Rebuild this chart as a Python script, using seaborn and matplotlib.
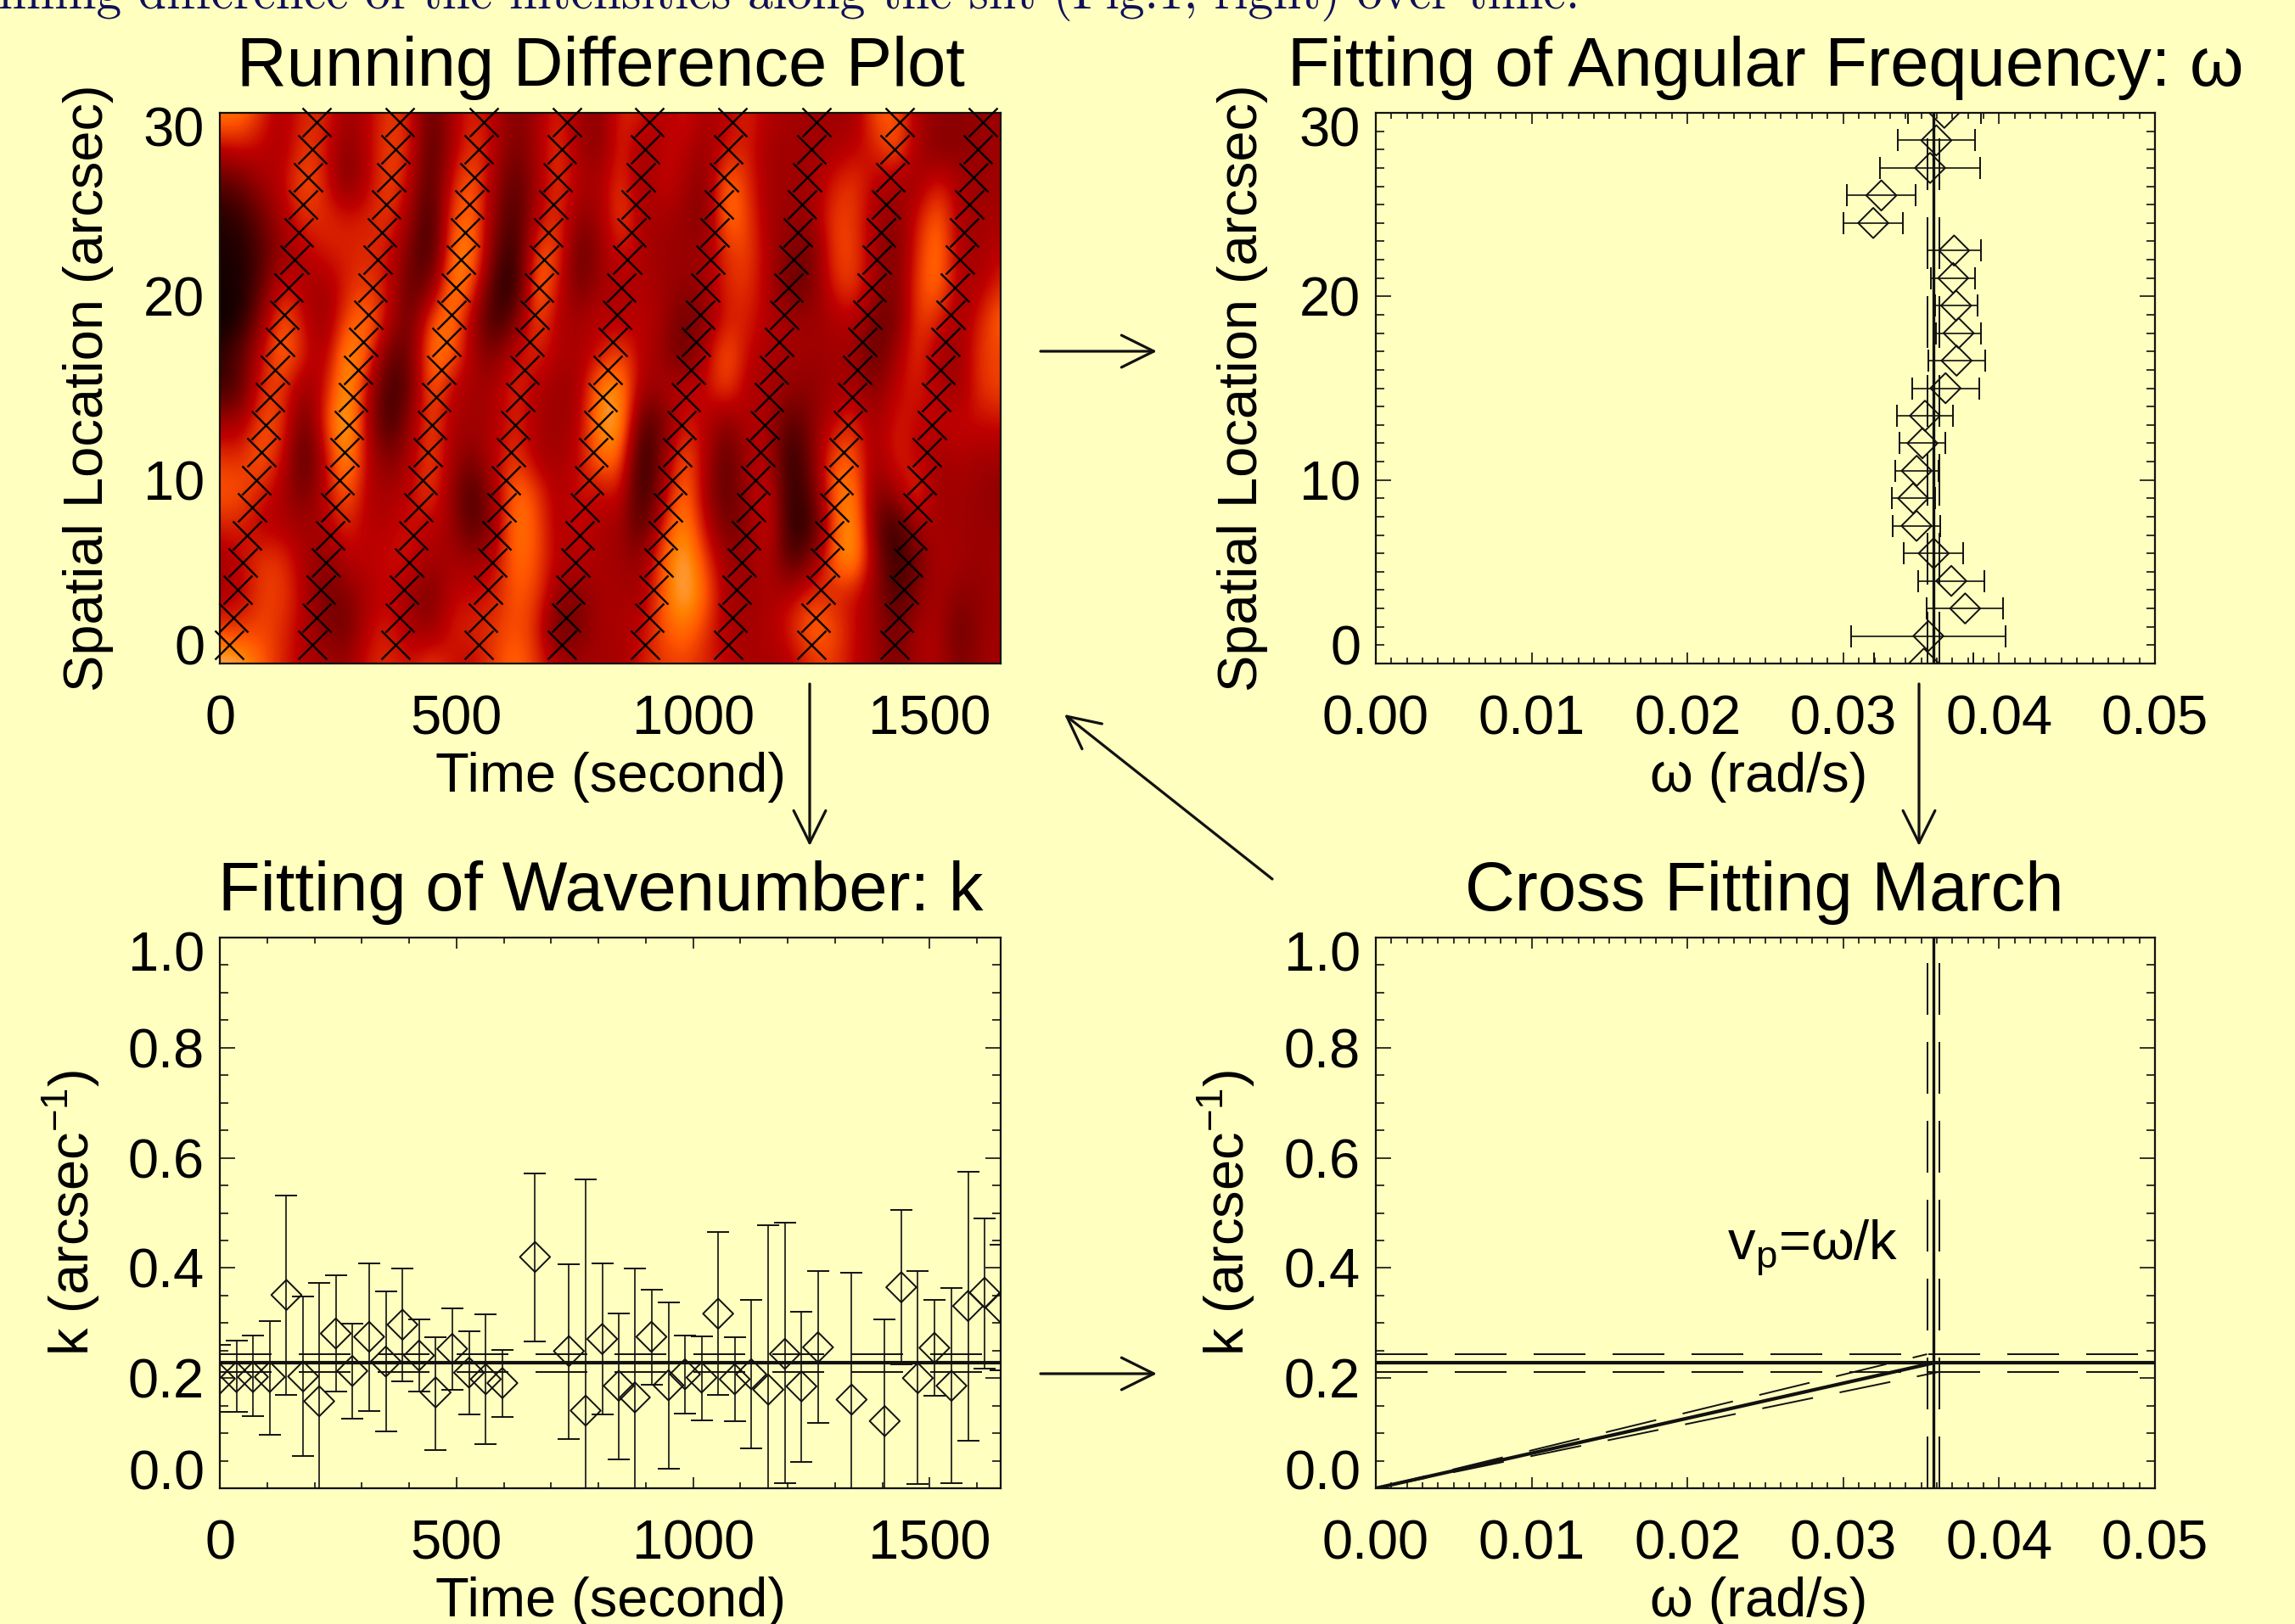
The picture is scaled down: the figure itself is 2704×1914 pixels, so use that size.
import numpy as np
import pandas as pd
import matplotlib
matplotlib.use("Agg")
import matplotlib.pyplot as plt
from matplotlib.ticker import MultipleLocator, FixedLocator
from matplotlib.transforms import ScaledTranslation
import seaborn as sns

BG = "#FFFFBF"
INK = "#111111"
W, H, DPI = 2704, 1914, 200

# ---------------- data -----------------
running_diff = [
 [74,74,58,44,58,58,42,48,62,56,25,45,58,48,34,42,58,42,36, 58,56,44,56,44,48,58,46,44,42,42,40,66,68,44,40,36,40,42],
 [52,54,50,44,62,55,34,48,64,58,18,45,62,48,30,44,62,42,34, 60,40,50,50,38,54,56,42,42,42,44,48,56,70,44,32,36,40,42],
 [22,30,42,50,68,56,30,48,66,50,18,56,70,42,22,42,62,46,44, 62,38,54,44,34,74,58,42,42,42,54,62,48,44,40,56,44,40,42],
 [10,14,30,46,60,58,55,56,62,42,12,66,72,36,16,48,62,36,42, 66,44,44,40,32,76,62,42,40,40,62,62,44,36,52,72,44,42,44],
 [ 7, 8,22,40,48,56,56,58,54,32,12,74,76,30,10,66,64,24,40, 56,44,40,40,42,60,64,44,36,28,62,64,42,30,58,76,44,42,50],
 [ 6, 6,25,56,44,42,56,62,52,24,30,80,66,16, 6,78,54,28,42, 46,46,42,38,42,58,60,46,24,32,56,64,42,32,62,74,44,46,58],
 [ 3, 6,40,70,50,38,64,74,50,24,66,76,42,12,30,68,46,42,50, 44,50,42,28,36,56,56,46,44,40,44,50,30,28,64,58,40,56,72],
 [12,26,52,74,56,42,82,68,26,28,76,70,42,32,52,58,46,44,52, 66,46,40,24,48,70,50,44,42,42,42,42,24,42,62,42,40,62,62],
 [15,22,62,60,38,52,86,50,14,26,72,48,42,44,60,46,40,42,78, 78,42,44,50,50,66,44,44,40,36,42,44,34,50,56,46,40,60,64],
 [44,44,66,62,24,62,90,46,12,40,66,44,42,44,58,44,40,46,80, 84,18,30,56,48,34,48,46,20,34,50,60,40,56,50,50,52,52,52],
 [60,58,70,52,18,50,84,48,32,44,66,42,34,50,62,44,42,50,74, 70, 6,38,70,46,22,44,48, 8,32,66,68,40,58,48,42,46,42,44],
 [68,66,56,44,28,50,72,46,42,50,64,38,16,44,74,62,44,54,50, 56, 8,44,76,42,22,44,56,10,24,70,78,32,44,64,40,42,40,36],
 [56,56,46,46,42,46,58,46,48,54,48,42,18,40,76,66,44,52,44, 42,18,60,80,50,28,36,58,10,12,62,86,30,10,46,42,42,40,40],
 [42,50,62,60,44,36,48,50,52,54,42,44,40,50,72,66,46,50,44, 42,38,68,86,62,40,40,50,18,34,70,84,42,10,30,46,42,40,42],
 [44,48,62,62,48,30,34,44,52,40,30,50,52,54,68,62,40,34,44, 44,42,70,86,70,42,42,44,48,60,56,52,40,18,36,44,36,38,42],
 [62,60,64,58,46,34,28,50,56,44,38,56,56,60,66,58,24,32,44, 44,50,66,74,60,44,42,46,56,72,66,52,42,28,44,46,26,40,42],
 [86,84,68,56,46,44,40,56,58,52,64,52,50,62,72,60,46,42,44, 42,56,60,62,56,50,44,44,46,58,62,50,42,32,44,46,32,40,44],
]
track_start = [19, 195, 371, 547, 722, 898, 1074, 1250, 1426]
track_space = [1, 2.5, 4, 5.5, 7, 8.5, 10, 11.5, 13, 14.5, 16, 17.5, 19, 20.5, 22, 23.5, 25, 26.5, 28, 29.5]
track_shift = [0, 9.6, 19, 29, 38, 49, 58, 68, 78, 87, 97, 108, 118, 127, 138, 147, 157, 167, 176, 186]

spatial = [0, 1.5, 3, 4.5, 6, 7.5, 9, 10.5, 12, 13.5, 15, 16.5, 18, 19.5, 21, 22.5, 24, 25.5, 27, 28.5, 30]
omega = [.03517,.03546,.03782,.03693,.03580,.03470,.03448,.03471,.03508,.03524,.03656,
         .03727,.03740,.03724,.03705,.03711,.03192,.03244,.03557,.03597,.03648]
omega_err = [.00320,.00496,.00245,.00211,.00190,.00153,.00139,.00140,.00149,.00180,.00215,
             .00181,.00143,.00137,.00143,.00172,.00189,.00219,.00320,.00247,.00234]

times = [0,35,70,105.5,140.7,176,210,245,280,315.5,350.7,386,421,456,491,526.6,562,597,666,737.6,773,808,
         843,877,912,948,983,1018,1053,1088,1123,1159,1194,1229,1264,1335,1405,1440,1475,1510,1546,1581,1616,1650]
wavenum = [.199,.202,.202,.202,.351,.203,.158,.281,.213,.275,.230,.297,.241,.174,.253,.210,.198,.191,.420,.249,.141,.271,
           .186,.165,.275,.187,.207,.201,.317,.198,.207,.179,.244,.185,.256,.161,.122,.365,.200,.255,.186,.331,.355,.328]
wavenum_hi = [.261,.268,.278,.304,.531,.348,.373,.386,.299,.409,.357,.399,.307,.275,.327,.285,.316,.251,.572,.407,.561,.409,
              .318,.399,.360,.338,.277,.276,.466,.274,.342,.478,.482,.321,.394,.391,.307,.505,.394,.342,.364,.575,.490,.442]
wavenum_lo = [.138,.139,.131,.097,.169,.058,-.06,.176,.126,.140,.103,.194,.175,.070,.178,.134,.080,.130,.267,.090,-.28,.134,
              .052,-.069,.188,.035,.136,.124,.169,.121,.073,-.12,.009,.047,.118,-.069,-.063,.225,.007,.168,.009,.087,.218,.214]

omega_fit, omega_fit_err = 0.03578, 0.00040
k_fit, k_fit_err = 0.2275, 0.0160

# ---------------- style -----------------
sns.set_theme(style="ticks", rc={
    "figure.facecolor": BG, "axes.facecolor": BG, "savefig.facecolor": BG,
    "axes.edgecolor": INK, "axes.linewidth": 0.8, "text.color": "black",
    "axes.labelcolor": "black", "xtick.color": INK, "ytick.color": INK,
    "xtick.labelcolor": "black", "ytick.labelcolor": "black",
    "xtick.direction": "in", "ytick.direction": "in",
    "xtick.top": True, "ytick.right": True,
    "lines.scale_dashes": False,
    "mathtext.fontset": "custom", "mathtext.rm": "Liberation Sans",
    "mathtext.it": "Liberation Sans", "mathtext.default": "regular",
})
plt.rcParams["font.family"] = ["Liberation Sans", "DejaVu Sans"]
FS_T, FS = 29.3, 23.4

fig = plt.figure(figsize=(W / DPI, H / DPI), dpi=DPI)


def make_axes(x0, y0, x1, y1):
    return fig.add_axes([x0 / W, 1 - y1 / H, (x1 - x0) / W, (y1 - y0) / H])


def figtext(px, py, s, **kw):
    kw.setdefault("ha", "center")
    kw.setdefault("va", "center")
    return fig.text(px / W, 1 - py / H, s, **kw)


def dress(ax, xmaj, xmin, ymaj, ymin, xlim, ylim, xlabels, ylabels, xlabel, ylabel, xlab_c, ylab_px, ticks=True):
    ax.set_xlim(*xlim); ax.set_ylim(*ylim)
    ax.xaxis.set_major_locator(FixedLocator(xmaj))
    ax.xaxis.set_minor_locator(MultipleLocator(xmin))
    ax.yaxis.set_major_locator(FixedLocator(ymaj))
    ax.yaxis.set_minor_locator(MultipleLocator(ymin))
    ax.set_xticklabels(xlabels, fontsize=FS)
    ax.set_yticklabels(ylabels, fontsize=FS)
    f = 72 / DPI
    if ticks:
        ax.tick_params(axis="x", which="major", length=13 * f, width=0.6, pad=36 * f)
        ax.tick_params(axis="x", which="minor", length=7 * f, width=0.6, top=True)
        ax.tick_params(axis="y", which="major", length=18 * f, width=0.6, pad=18 * f)
        ax.tick_params(axis="y", which="minor", length=10 * f, width=0.6, right=True)
    else:
        ax.tick_params(axis="x", which="both", length=0, pad=36 * f)
        ax.tick_params(axis="y", which="both", length=0, pad=18 * f)
    # the lowest and the highest labels of the y axis sit inside the frame
    ticks_y = ax.yaxis.get_major_ticks()
    ticks_y[0].label1.set_transform(ticks_y[0].label1.get_transform() + ScaledTranslation(0, 22 / DPI, fig.dpi_scale_trans))
    ticks_y[-1].label1.set_transform(ticks_y[-1].label1.get_transform() + ScaledTranslation(0, -16 / DPI, fig.dpi_scale_trans))
    ax.set_xlabel(xlabel, fontsize=FS)
    ax.set_ylabel(ylabel, fontsize=FS, va="center")
    pos = ax.get_position()
    ax.xaxis.set_label_coords(xlab_c, -134 / (pos.height * H))
    ax.yaxis.set_label_coords((ylab_px - pos.x0 * W) / (pos.width * W), 0.5)
    ax.xaxis.label.set_va("center")


DASH = (0, (61 * 72 / DPI, 32 * 72 / DPI))


def guides(ax, vertical=False, horizontal=False):
    if vertical:
        ax.axvline(omega_fit, color=INK, lw=1.2, zorder=2)
        for s in (-1, 1):
            ax.axvline(omega_fit + s * omega_fit_err, color=INK, lw=0.7, ls=DASH, zorder=2)
    if horizontal:
        ax.axhline(k_fit, color=INK, lw=1.5, zorder=2)
        for s in (-1, 1):
            ax.axhline(k_fit + s * k_fit_err, color=INK, lw=0.7, ls=DASH, zorder=2)


CAP = 13 * 72 / DPI
DIAMOND = dict(marker="D", s=82, facecolors="none", edgecolor=INK, linewidth=0.7, legend=False, zorder=4)

# ---------------- A: running difference -----------------
axA = make_axes(259, 133, 1179, 782)
grid = np.array(running_diff) / 100
dt = 1650 / (grid.shape[1] - 1)
ds = 30 / (grid.shape[0] - 1)
axA.imshow(grid, cmap="gist_heat", vmin=0, vmax=1, aspect="auto", interpolation="bicubic",
           extent=(-dt / 2, 1650 + dt / 2, -ds / 2, 30 + ds / 2), origin="upper", zorder=1)
tracks = pd.DataFrame(
    [(t0 + dx, s) for t0 in track_start for dx, s in zip(track_shift, track_space)],
    columns=["time", "s"])
sns.scatterplot(data=tracks, x="time", y="s", marker="x", s=(34 * 72 / DPI) ** 2, color="black",
                linewidth=0.85, ax=axA, clip_on=False, legend=False, zorder=5)
dress(axA, [0, 500, 1000, 1500], 100, [0, 10, 20, 30], 1, (0, 1650), (0, 30),
      ["0", "500", "1000", "1500"], ["0", "10", "20", "30"],
      "Time (second)", "Spatial Location (arcsec)", 0.5, 104, ticks=False)

# ---------------- B: omega -----------------
axB = make_axes(1621, 133, 2539, 782)
guides(axB, vertical=True)
axB.errorbar(omega, spatial, xerr=omega_err, fmt="none", ecolor=INK, elinewidth=0.6,
             capsize=CAP, capthick=0.7, zorder=3)
sns.scatterplot(x=omega, y=spatial, ax=axB, **DIAMOND)
dress(axB, [0, .01, .02, .03, .04, .05], .001, [0, 10, 20, 30], 1, (0, .05), (0, 30),
      ["0.00", "0.01", "0.02", "0.03", "0.04", "0.05"], ["0", "10", "20", "30"],
      "\u03c9 (rad/s)", "Spatial Location (arcsec)", 0.491, 1464)

# ---------------- C: wavenumber -----------------
axC = make_axes(259, 1105, 1179, 1754)
guides(axC, horizontal=True)
k_arr = np.array(wavenum)
axC.errorbar(times, wavenum, yerr=[k_arr - np.array(wavenum_lo), np.array(wavenum_hi) - k_arr], fmt="none",
             ecolor=INK, elinewidth=0.6, capsize=CAP, capthick=0.7, zorder=3)
sns.scatterplot(x=times, y=wavenum, ax=axC, **DIAMOND)
dress(axC, [0, 500, 1000, 1500], 100, [0, .2, .4, .6, .8, 1], .05, (0, 1650), (0, 1),
      ["0", "500", "1000", "1500"], ["0.0", "0.2", "0.4", "0.6", "0.8", "1.0"],
      "Time (second)", "k (arcsec$^{-1}$)", 0.5, 84)

# ---------------- D: cross fitting -----------------
axD = make_axes(1621, 1105, 2539, 1754)
guides(axD, vertical=True, horizontal=True)
axD.plot([0, omega_fit], [0, k_fit], color=INK, lw=1.5, zorder=3)
axD.plot([0, omega_fit - omega_fit_err], [0, k_fit + k_fit_err], color=INK, lw=0.7, ls=DASH, zorder=3)
axD.plot([0, omega_fit + omega_fit_err], [0, k_fit - k_fit_err], color=INK, lw=0.7, ls=DASH, zorder=3)
dress(axD, [0, .01, .02, .03, .04, .05], .001, [0, .2, .4, .6, .8, 1], .05, (0, .05), (0, 1),
      ["0.00", "0.01", "0.02", "0.03", "0.04", "0.05"], ["0.0", "0.2", "0.4", "0.6", "0.8", "1.0"],
      "\u03c9 (rad/s)", "k (arcsec$^{-1}$)", 0.491, 1445)
figtext(2136, 1471, "v$_{p}$=\u03c9/k", fontsize=FS)

# ---------------- titles, arrows, clipped caption -----------------
figtext(708, 80, "Running Difference Plot", fontsize=FS_T)
figtext(2080, 80, "Fitting of Angular Frequency: \u03c9", fontsize=FS_T)
figtext(708, 1052, "Fitting of Wavenumber: k", fontsize=FS_T)
figtext(2079, 1052, "Cross Fitting March", fontsize=FS_T)

arrows = [((1226, 414), (1363, 414)), ((954, 806), (954, 997)), ((2261, 806), (2261, 997)),
          ((1499, 1036), (1254, 842)), ((1226, 1619), (1363, 1619))]
for (x0, y0), (x1, y1) in arrows:
    fig.add_artist(matplotlib.patches.FancyArrowPatch(
        (x0 / W, 1 - y0 / H), (x1 / W, 1 - y1 / H), transform=fig.transFigure,
        arrowstyle="->,head_length=1.37,head_width=0.68", mutation_scale=10,
        color=INK, lw=1.15, shrinkA=0, shrinkB=0))

figtext(-2, 10, "nning difference of the intensities along the slit (Fig.1, right) over time.",
        family="cmr10", fontsize=21.4, color="#10105A", ha="left", va="baseline")

fig.savefig("out.png", dpi=DPI)
